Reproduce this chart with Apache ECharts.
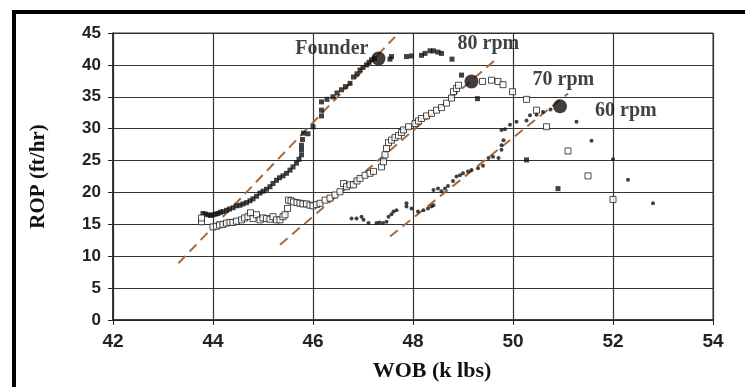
<!DOCTYPE html>
<html>
<head>
<meta charset="utf-8">
<script src="https://cdn.jsdelivr.net/npm/echarts@6/dist/echarts.min.js"></script>
<style>
  html, body { margin: 0; padding: 0; background: #fff; }
  #main_chart { width: 745px; height: 387px; }
</style>
</head>
<body>
<div id="main_chart"></div>
<script>
// 80 rpm run (filled squares)
var wob80 = [43.80,43.85,43.90,43.95,44.00,44.05,44.10,44.15,44.20,44.27,44.33,44.40,44.47,44.54,44.60,44.67,44.74,44.80,44.87,44.94,
  45.00,45.07,45.14,45.20,45.27,45.33,45.40,45.47,45.54,45.60,45.67,45.72,45.77,45.77,45.77,45.79,45.81,45.90,46.00,46.17,
  46.17,46.17,46.28,46.40,46.48,46.57,46.65,46.74,46.81,46.88,46.94,47.00,47.07,47.12,47.17,47.23,47.54,47.57,47.87,47.97,
  48.17,48.24,48.34,48.41,48.50,48.57,48.78,48.97,49.29,50.27,50.90];
var rop80 = [16.7,16.6,16.5,16.4,16.5,16.6,16.7,16.9,17.0,17.2,17.4,17.6,17.9,18.0,18.2,18.4,18.7,19.0,19.4,19.9,
  20.2,20.5,20.9,21.4,21.9,22.3,22.6,23.0,23.5,24.0,24.6,25.2,25.9,26.7,27.4,28.3,29.3,29.2,30.3,32.0,
  32.9,34.2,34.6,35.0,35.6,36.1,36.6,37.1,38.1,38.6,39.2,39.6,40.0,40.4,40.8,41.0,40.9,41.3,41.3,41.4,
  41.5,41.8,42.2,42.2,42.0,41.8,40.9,38.4,34.7,25.1,20.6];

// 70 rpm run (open squares)
var wob70 = [43.77,43.77,44.00,44.07,44.13,44.20,44.27,44.34,44.40,44.47,44.57,44.63,44.70,44.75,44.80,44.87,44.94,45.00,45.07,45.14,
  45.20,45.27,45.34,45.40,45.44,45.49,45.51,45.56,45.61,45.68,45.74,45.80,45.87,45.94,46.00,46.07,46.14,46.24,46.34,46.44,
  46.54,46.61,46.67,46.74,46.81,46.88,46.94,47.04,47.14,47.21,47.37,47.41,47.44,47.47,47.51,47.57,47.64,47.71,47.77,47.81,
  47.91,48.04,48.11,48.17,48.27,48.37,48.47,48.57,48.67,48.77,48.81,48.87,48.91,49.39,49.57,49.70,49.80,49.99,50.27,50.47,
  50.67,51.10,51.50,52.00];
var rop70 = [15.4,16.0,14.6,14.7,14.9,15.0,15.2,15.3,15.3,15.5,15.7,16.0,16.2,16.8,15.9,16.5,15.7,16.0,15.9,15.8,
  16.2,15.7,15.7,16.2,16.5,17.5,18.8,18.7,18.5,18.4,18.3,18.2,18.2,18.0,17.9,18.1,18.3,18.8,19.1,19.6,
  20.1,21.4,20.9,21.2,21.2,21.8,22.2,22.7,23.0,23.3,24.0,24.8,25.9,26.9,27.8,28.2,28.6,28.9,29.4,29.8,
  30.3,30.8,31.2,31.6,32.0,32.4,32.9,33.3,34.0,34.8,35.8,36.3,36.8,37.4,37.6,37.4,36.9,35.8,34.6,32.9,
  30.3,26.5,22.6,18.9];

// 60 rpm run (small dots)
var wob60 = [46.77,46.87,46.97,47.01,47.11,47.27,47.33,47.40,47.47,47.51,47.57,47.61,47.67,47.87,47.87,47.97,48.10,48.21,48.30,48.37,
  48.41,48.41,48.50,48.57,48.64,48.70,48.80,48.87,48.94,49.00,49.10,49.17,49.30,49.40,49.51,49.60,49.71,49.77,49.77,49.81,
  49.77,49.84,49.94,50.07,50.27,50.34,50.47,50.60,50.75,51.27,51.57,52.00,52.30,52.80];
var rop60 = [15.9,15.9,16.2,15.7,15.2,15.2,15.3,15.2,15.4,16.2,16.6,17.0,17.2,18.3,17.8,17.5,17.0,17.2,17.5,17.8,
  18.0,20.4,20.6,20.2,20.6,21.0,21.8,22.5,22.7,23.0,23.3,23.5,23.8,24.2,25.4,25.6,25.4,26.7,27.4,28.2,
  29.8,29.9,30.6,31.1,31.3,32.1,32.2,32.6,33.0,31.1,28.1,25.2,22.0,18.3];

// founder points (80, 70, 60 rpm)
var founderWob = [47.31, 49.17, 50.94];
var founderRop = [41.0, 37.4, 33.5];
var founderNames = ['80 rpm', '70 rpm', '60 rpm'];

// dashed trend lines, end points
var trendWob = [[43.31, 47.64], [45.34, 49.65], [47.54, 51.10]];
var trendRop = [[8.9, 44.4], [11.8, 40.8], [13.1, 35.5]];

var xTicks = [42, 44, 46, 48, 50, 52, 54];
var yTicks = [0, 5, 10, 15, 20, 25, 30, 35, 40, 45];

function pairs(xs, ys) {
    return xs.map(function (x, i) { return [x, ys[i]]; });
}

var serifFont = '"Liberation Serif", "Times New Roman", serif';
var sansFont = '"Liberation Sans", Arial, sans-serif';
var trendColor = '#a86a3c';

// label offsets for the rpm tags, next to each founder point
var tagOffsets = [[79, -15], [61, -2], [35, 4]];

var series = [];

trendWob.forEach(function (xs, i) {
    series.push({
        type: 'line',
        data: pairs(xs, trendRop[i]),
        symbol: 'none',
        z: 1,
        lineStyle: { color: trendColor, width: 2, type: [10, 6] }
    });
});

series.push({
    name: '80 rpm', type: 'scatter', data: pairs(wob80, rop80),
    symbol: 'rect', symbolSize: 5, z: 3,
    itemStyle: { color: '#111' }
});
series.push({
    name: '70 rpm', type: 'scatter', data: pairs(wob70, rop70),
    symbol: 'rect', symbolSize: 6, z: 3,
    itemStyle: { color: '#fff', borderColor: '#222', borderWidth: 1 }
});
series.push({
    name: '60 rpm', type: 'scatter', data: pairs(wob60, rop60),
    symbol: 'circle', symbolSize: 4, z: 3,
    itemStyle: { color: '#111' }
});

series.push({
    name: 'founder', type: 'scatter', z: 4,
    symbol: 'circle', symbolSize: 14,
    itemStyle: { color: '#120e0c' },
    data: founderWob.map(function (x, i) {
        return {
            value: [x, founderRop[i]],
            label: {
                show: true, position: 'inside', align: 'left', verticalAlign: 'middle',
                offset: tagOffsets[i], formatter: founderNames[i],
                color: '#111', fontFamily: serifFont, fontWeight: 'bold', fontSize: 20
            }
        };
    })
});
series.push({
    type: 'scatter', z: 4, symbolSize: 0,
    data: [[founderWob[0], founderRop[0]]],
    label: {
        show: true, position: 'inside', align: 'right', verticalAlign: 'middle',
        offset: [-10, -10], formatter: 'Founder',
        color: '#111', fontFamily: serifFont, fontWeight: 'bold', fontSize: 20
    }
});

var option = {
    backgroundColor: '#fff',
    animation: false,
    grid: {
        left: 113, right: 32, top: 33, bottom: 67,
        show: true, borderColor: '#333', borderWidth: 1
    },
    xAxis: {
        type: 'value', min: xTicks[0], max: xTicks[xTicks.length - 1], interval: 2,
        name: 'WOB (k lbs)', nameLocation: 'middle', nameGap: 40,
        nameTextStyle: { fontFamily: serifFont, fontWeight: 'bold', fontSize: 22, color: '#111', padding: [0, 0, 0, 38] },
        axisLine: { lineStyle: { color: '#222', width: 1.5 } },
        axisTick: { show: true, length: 5, lineStyle: { color: '#222' } },
        axisLabel: { margin: 12, fontFamily: sansFont, fontWeight: 'bold', fontSize: 19, color: '#222' },
        splitLine: { show: true, lineStyle: { color: '#333', width: 1.2 } }
    },
    yAxis: {
        type: 'value', min: yTicks[0], max: yTicks[yTicks.length - 1], interval: 5,
        name: 'ROP (ft/hr)', nameLocation: 'middle', nameGap: 64, nameRotate: 90,
        nameTextStyle: { fontFamily: serifFont, fontWeight: 'bold', fontSize: 21, color: '#111' },
        axisLine: { show: true, lineStyle: { color: '#222', width: 1.5 } },
        axisTick: { show: true, length: 5, lineStyle: { color: '#222' } },
        axisLabel: { margin: 12, fontFamily: sansFont, fontWeight: 'bold', fontSize: 17, color: '#222' },
        splitLine: { show: true, lineStyle: { color: '#333', width: 1.2 } }
    },
    graphic: [{
        type: 'rect', silent: true, z: 10,
        shape: { x: 14, y: 12, width: 780, height: 420 },
        style: { fill: 'none', stroke: '#000', lineWidth: 4 }
    }],
    series: series
};

var mychart = echarts.init(document.getElementById('main_chart'));
mychart.setOption(option);
</script>
</body>
</html>
